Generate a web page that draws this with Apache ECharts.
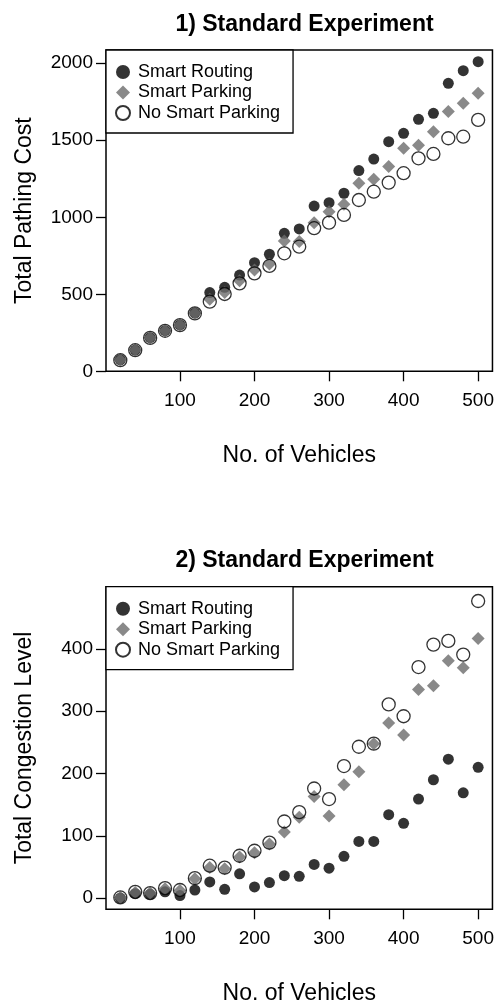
<!DOCTYPE html>
<html><head><meta charset="utf-8">
<script src="https://cdn.jsdelivr.net/npm/echarts@6/dist/echarts.min.js"></script>
<style>html,body{margin:0;padding:0;background:#fff}#c{width:497px;height:1007px}</style>
</head><body><div id="c"></div>
<script>
const vehicles = [20,40,60,80,100,120,140,160,180,200,220,240,260,280,300,320,340,360,380,400,420,440,460,480,500];
const seriesNames = ['Smart Routing','Smart Parking','No Smart Parking'];
const chartTitles = ['1) Standard Experiment','2) Standard Experiment'];
const yTitles = ['Total Pathing Cost','Total Congestion Level'];
const xTitle = 'No. of Vehicles';

const costSmartRouting   = [75,138,218,264,301,378,511,545,625,705,760,896,924,1073,1095,1156,1303,1378,1491,1545,1636,1675,1870,1952,2010];
const costSmartParking   = [73,138,218,264,301,377,467,511,588,658,697,846,842,965,1036,1084,1221,1247,1329,1448,1468,1556,1686,1740,1805];
const costNoSmartParking = [72,137,217,263,300,376,452,502,571,636,684,766,809,929,965,1015,1112,1166,1225,1286,1383,1411,1513,1523,1632];

const congSmartRouting   = [0,7,6,10,4,13,26,14,39,18,25,36,35,54,48,67,91,91,134,120,159,190,223,169,210];
const congSmartParking   = [1,9,8,15,12,31,49,47,66,73,87,106,130,163,132,182,203,248,281,262,335,341,381,370,417];
const congNoSmartParking = [1,10,8,16,13,32,52,49,68,76,89,123,138,176,159,212,243,248,311,292,371,407,413,391,477];

const xTicks = [100,200,300,400,500];
const costTicks = [0,500,1000,1500,2000];
const congTicks = [0,100,200,300,400];

const FONT = '"Liberation Sans", Arial, sans-serif';
const chart = echarts.init(document.getElementById('c'), null, {renderer:'canvas'});

function pairs(ys){ return vehicles.map((x,i)=>[x, ys[i]]); }

const grids = [
  {left:106, top:50, width:387, height:321.3, show:true, borderColor:'#000', borderWidth:1.5, backgroundColor:'transparent'},
  {left:106, top:586.7, width:387, height:322.6, show:true, borderColor:'#000', borderWidth:1.5, backgroundColor:'transparent'}
];

function xAxisFor(i){
  return {
    type:'value', gridIndex:i, min:0.8, max:519.2,
    name:xTitle, nameLocation:'middle', nameGap:73,
    nameTextStyle:{fontFamily:FONT, fontSize:23, color:'#000'},
    axisLine:{show:false, onZero:false},
    axisTick:{show:true, length:10, inside:false, customValues:xTicks, lineStyle:{color:'#000', width:1.3}},
    axisLabel:{show:true, customValues:xTicks, margin:20, fontFamily:FONT, fontSize:19, color:'#000', formatter:v=>String(v)},
    splitLine:{show:false}
  };
}
function yAxisFor(i, mn, mx, ticks){
  return {
    type:'value', gridIndex:i, min:mn, max:mx,
    name:yTitles[i], nameLocation:'middle', nameGap:70,
    nameTextStyle:{fontFamily:FONT, fontSize:23, color:'#000'},
    axisLine:{show:false, onZero:false},
    axisTick:{show:true, length:10, inside:false, customValues:ticks, lineStyle:{color:'#000', width:1.3}},
    axisLabel:{show:true, customValues:ticks, margin:13, fontFamily:FONT, fontSize:19, color:'#000', formatter:v=>String(v)},
    splitLine:{show:false}
  };
}

const styles = [
  {symbol:'circle', symbolSize:11, itemStyle:{color:'#000', borderColor:'#000', borderWidth:0}},
  {symbol:'diamond', symbolSize:13, symbolKeepAspect:true, itemStyle:{color:'#6b6b6b', borderColor:'#6b6b6b', borderWidth:0}},
  {symbol:'circle', symbolSize:13, itemStyle:{color:'rgba(255,255,255,0)', borderColor:'#000', borderWidth:1.3}}
];

const dataSets = [
  [costSmartRouting, costSmartParking, costNoSmartParking],
  [congSmartRouting, congSmartParking, congNoSmartParking]
];

const series = [];
dataSets.forEach((set, gi)=>{
  set.forEach((ys, si)=>{
    series.push(Object.assign({
      type:'scatter', name:seriesNames[si], xAxisIndex:gi, yAxisIndex:gi,
      data:pairs(ys), silent:true, animation:false
    }, styles[si]));
  });
});

function legendFor(top){
  return {
    orient:'vertical', left:106, top:top, data:seriesNames,
    itemWidth:14, itemHeight:14, itemGap:0.5, symbolKeepAspect:true,
    padding:[12,13,10,9], borderColor:'#000', borderWidth:1.3, backgroundColor:'#fff',
    selectedMode:false,
    textStyle:{fontFamily:FONT, fontSize:18, color:'#000', lineHeight:20, padding:[0,0,0,3]}
  };
}

chart.setOption({
  animation:false,
  backgroundColor:'#fff',
  title: chartTitles.map((t,i)=>({
    text:t, left:299.5, top: i===0 ? 8 : 544.5, textAlign:'center',
    textStyle:{fontFamily:FONT, fontSize:23, fontWeight:'bold', color:'#000'}
  })),
  legend:[legendFor(50), legendFor(586.7)],
  grid:grids,
  xAxis:[xAxisFor(0), xAxisFor(1)],
  yAxis:[yAxisFor(0, 0, 2086, costTicks), yAxisFor(1, -18, 500, congTicks)],
  series:series
});
</script></body></html>
